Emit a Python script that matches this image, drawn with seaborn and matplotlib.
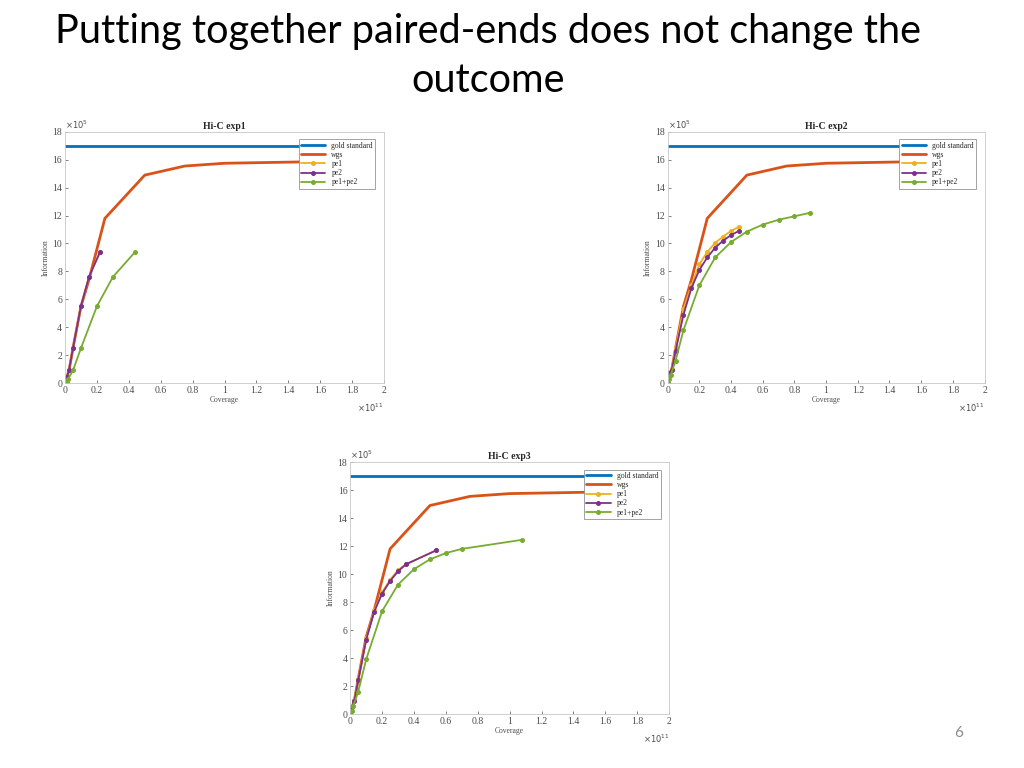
import matplotlib
matplotlib.use("Agg")
import matplotlib.pyplot as plt
import seaborn as sns
import pandas as pd

# values in units of 1e11 (coverage) and 1e5 (information)
gold_x = [0, 1.8]
gold_y = [17.0, 17.0]

wgs_x = [0, 0.025, 0.05, 0.1, 0.15, 0.25, 0.5, 0.75, 1.0, 1.25, 1.5, 1.75]
wgs_y = [0, 0.9, 2.5, 5.5, 7.4, 11.8, 14.9, 15.55, 15.75, 15.8, 15.85, 15.88]

# exp1
e1_pe_x = [0, 0.005, 0.01, 0.025, 0.05, 0.1, 0.15, 0.22]
e1_pe1_y = [0, 0.2, 0.4, 0.9, 2.5, 5.5, 7.6, 9.4]
e1_pe2_y = [0, 0.2, 0.4, 0.9, 2.5, 5.5, 7.6, 9.4]
e1_both_x = [0, 0.01, 0.02, 0.05, 0.1, 0.2, 0.3, 0.44]
e1_both_y = [0, 0.1, 0.3, 0.9, 2.5, 5.5, 7.6, 9.4]

# exp2
e2_pe_x = [0, 0.005, 0.01, 0.025, 0.05, 0.1, 0.15, 0.2, 0.25, 0.3, 0.35, 0.4, 0.45]
e2_pe1_y = [0, 0.3, 0.8, 1.0, 2.5, 5.3, 7.0, 8.5, 9.4, 10.05, 10.5, 10.9, 11.2]
e2_pe2_y = [0, 0.3, 0.7, 0.9, 2.3, 4.9, 6.8, 8.1, 9.0, 9.7, 10.2, 10.6, 10.9]
e2_both_x = [0, 0.01, 0.02, 0.05, 0.1, 0.2, 0.3, 0.4, 0.5, 0.6, 0.7, 0.8, 0.9]
e2_both_y = [0, 0.3, 0.6, 1.6, 3.8, 7.0, 9.0, 10.1, 10.85, 11.35, 11.7, 11.95, 12.2]

# exp3
e3_pe_x = [0, 0.005, 0.01, 0.025, 0.05, 0.1, 0.15, 0.2, 0.25, 0.3, 0.35, 0.54]
e3_pe1_y = [0, 0.3, 0.6, 1.0, 2.5, 5.4, 7.4, 8.7, 9.6, 10.3, 10.7, 11.7]
e3_pe2_y = [0, 0.3, 0.5, 0.9, 2.4, 5.3, 7.3, 8.6, 9.5, 10.2, 10.7, 11.7]
e3_both_x = [0, 0.01, 0.02, 0.05, 0.1, 0.2, 0.3, 0.4, 0.5, 0.6, 0.7, 1.08]
e3_both_y = [0, 0.2, 0.6, 1.6, 3.9, 7.35, 9.25, 10.35, 11.05, 11.5, 11.8, 12.45]

titles = ["Hi-C exp1", "Hi-C exp2", "Hi-C exp3"]
series_names = ["gold standard", "wgs", "pe1", "pe2", "pe1+pe2"]
colors = ["#0072BD", "#D95319", "#EDB120", "#7E2F8E", "#77AC30"]

experiments = [
    (e1_pe_x, e1_pe1_y, e1_pe2_y, e1_both_x, e1_both_y),
    (e2_pe_x, e2_pe1_y, e2_pe2_y, e2_both_x, e2_both_y),
    (e3_pe_x, e3_pe1_y, e3_pe2_y, e3_both_x, e3_both_y),
]

sns.set_style("ticks")
serif = "Liberation Serif"

fig = plt.figure(figsize=(10.24, 7.68), dpi=100)
fig.text(0.477, 0.944, "Putting together paired-ends does not change the",
         ha="center", va="baseline", fontsize=28.5, family="Lato",
         color="black")
fig.text(0.477, 0.880, "outcome", ha="center", va="baseline", fontsize=28.5,
         family="Lato", color="black")
fig.text(0.936, 0.045, "6", ha="center", va="center", fontsize=11,
         color="#8a8a8a", family="Lato")

positions = [
    [0.0635, 0.5013, 0.3115, 0.327],
    [0.652, 0.5013, 0.3095, 0.327],
    [0.342, 0.0703, 0.3115, 0.328],
]

for pos, title, exp in zip(positions, titles, experiments):
    pe_x, pe1_y, pe2_y, both_x, both_y = exp
    frames = [
        pd.DataFrame({"x": gold_x, "y": gold_y, "series": "gold standard"}),
        pd.DataFrame({"x": wgs_x, "y": wgs_y, "series": "wgs"}),
        pd.DataFrame({"x": pe_x, "y": pe1_y, "series": "pe1"}),
        pd.DataFrame({"x": pe_x, "y": pe2_y, "series": "pe2"}),
        pd.DataFrame({"x": both_x, "y": both_y, "series": "pe1+pe2"}),
    ]
    df = pd.concat(frames, ignore_index=True)

    ax = fig.add_axes(pos)
    sns.lineplot(data=df, x="x", y="y", hue="series", hue_order=series_names,
                 palette=colors, sort=False, estimator=None, ax=ax,
                 legend=False)
    for line, name, c in zip(ax.get_lines(), series_names, colors):
        if name in ("gold standard", "wgs"):
            line.set_linewidth(2.0)
        else:
            line.set_linewidth(1.3)
            line.set_marker("o")
            line.set_markersize(2.8)
            line.set_markeredgecolor(c)
            line.set_markerfacecolor(c)

    ax.set_xlim(0, 2)
    ax.set_ylim(0, 18)
    ax.set_xticks([i * 0.2 for i in range(11)])
    ax.set_xticklabels(["0", "0.2", "0.4", "0.6", "0.8", "1", "1.2", "1.4",
                        "1.6", "1.8", "2"])
    ax.set_yticks(range(0, 19, 2))
    ax.tick_params(direction="in", length=2.5, width=0.5, labelsize=7,
                   colors="#4d4d4d", pad=2)
    for lab in ax.get_xticklabels() + ax.get_yticklabels():
        lab.set_family(serif)
    for sp in ax.spines.values():
        sp.set_visible(True)
        sp.set_color("#c8c8c8")
        sp.set_linewidth(0.6)
    ax.set_xlabel("Coverage", fontsize=5.5, family=serif, color="#4d4d4d",
                  labelpad=1)
    ax.set_ylabel("Information", fontsize=5.5, family=serif, color="#4d4d4d",
                  labelpad=2)
    ax.set_title(title, fontsize=7, family=serif, fontweight="bold", pad=2)
    ax.text(0.0, 1.005, r"$\times10^{5}$", transform=ax.transAxes, fontsize=6,
            color="#4d4d4d", va="bottom", ha="left")
    ax.text(1.0, -0.075, r"$\times10^{11}$", transform=ax.transAxes,
            fontsize=6, color="#4d4d4d", va="top", ha="right")

    handles = ax.get_lines()[:5]
    leg = ax.legend(handles, series_names, loc="upper right",
                    prop={"family": serif, "size": 5.5},
                    frameon=True, fancybox=False, borderpad=0.3,
                    labelspacing=0.15, handlelength=3.2, numpoints=1,
                    bbox_to_anchor=(0.985, 0.985))
    leg.get_frame().set_edgecolor("#7f7f7f")
    leg.get_frame().set_linewidth(0.5)
    leg.get_frame().set_alpha(1.0)

fig.savefig("out.png", dpi=100)
